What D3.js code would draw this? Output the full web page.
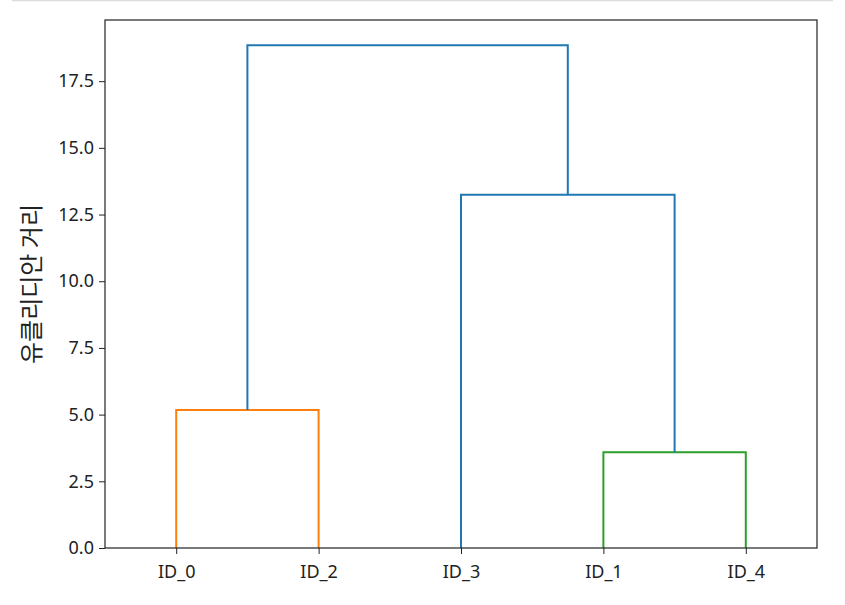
<!DOCTYPE html>
<html>
<head>
<meta charset="utf-8">
<script src="https://cdn.jsdelivr.net/npm/d3@7"></script>
<style>
  body { margin: 0; background: #fff; }
  svg { display: block; }
</style>
</head>
<body>
<svg width="845" height="605"></svg>
<script>
const width = 845
const height = 605

// original leaf names (index = observation id)
const leafNames = ["ID_0", "ID_1", "ID_2", "ID_3", "ID_4"]

// linkage rows, scipy style: node 5, 6, 7, 8
const linkLeft = [1, 0, 3, 6]
const linkRight = [4, 2, 5, 7]
const linkHeight = [3.59, 5.17, 13.24, 18.85]
const linkColor = ["#2ca02c", "#ff7f0e", "#1f77b4", "#1f77b4"]

const yTicks = [0, 2.5, 5, 7.5, 10, 12.5, 15, 17.5]

let margin = {top: 20, right: 28, bottom: 57, left: 105}

let svg = d3.select("svg")

// separator line at the very top
svg.append("line")
  .attr("x1", 12).attr("x2", 833)
  .attr("y1", 0.5).attr("y2", 0.5)
  .attr("stroke", "#dcdcdc")
  .attr("stroke-width", 1.5)

const n = leafNames.length

// walk the tree to get leaf order
function order(node) {
  if (node < n) return [node]
  let i = node - n
  return order(linkLeft[i]).concat(order(linkRight[i]))
}
const leafOrder = order(n + linkLeft.length - 1)

// leaf positions like scipy: 5, 15, 25 ...
let xPos = {}
leafOrder.forEach((d, i) => { xPos[d] = 5 + 10 * i })
let yPos = {}
leafOrder.forEach(d => { yPos[d] = 0 })
linkLeft.forEach((l, i) => {
  xPos[n + i] = (xPos[l] + xPos[linkRight[i]]) / 2
  yPos[n + i] = linkHeight[i]
})

const x = d3.scaleLinear()
  .domain([0, 10 * n])
  .range([margin.left, width - margin.right])

const y = d3.scaleLinear()
  .domain([0, d3.max(linkHeight) * 1.05])
  .range([height - margin.bottom, margin.top])

// links
linkLeft.forEach((l, i) => {
  let r = linkRight[i]
  let h = linkHeight[i]
  let pts = [[xPos[l], yPos[l]], [xPos[l], h], [xPos[r], h], [xPos[r], yPos[r]]]
  svg.append("path")
    .attr("d", d3.line().x(d => x(d[0])).y(d => y(d[1]))(pts))
    .attr("fill", "none")
    .attr("stroke", linkColor[i])
    .attr("stroke-width", 2)
})

// axes
let yAxis = svg.append("g")
  .attr("transform", `translate(${margin.left},0)`)
  .call(d3.axisLeft(y).tickValues(yTicks).tickFormat(d3.format(".1f")).tickSize(6).tickPadding(5))

let xAxis = svg.append("g")
  .attr("transform", `translate(0,${height - margin.bottom})`)
  .call(d3.axisBottom(x).tickValues(leafOrder.map(d => xPos[d]))
    .tickFormat((d, i) => leafNames[leafOrder[i]]).tickSize(6).tickPadding(11))

svg.selectAll(".domain").remove()
svg.selectAll(".tick line").attr("stroke", "#222").attr("stroke-width", 1)
svg.selectAll(".tick text")
  .attr("fill", "#222")
  .style("font-family", "'Noto Sans', 'Noto Sans CJK KR', sans-serif")
  .style("font-size", "18px")

// frame
svg.append("rect")
  .attr("x", margin.left)
  .attr("y", margin.top)
  .attr("width", width - margin.left - margin.right)
  .attr("height", height - margin.top - margin.bottom)
  .attr("fill", "none")
  .attr("stroke", "#222")
  .attr("stroke-width", 1.2)

// y label
svg.append("text")
  .attr("transform", `translate(40,${(margin.top + height - margin.bottom) / 2}) rotate(-90)`)
  .attr("text-anchor", "middle")
  .style("font-family", "'Noto Sans CJK KR', sans-serif")
  .style("font-size", "24px")
  .attr("fill", "#222")
  .text("유클리디안 거리")
</script>
</body>
</html>
